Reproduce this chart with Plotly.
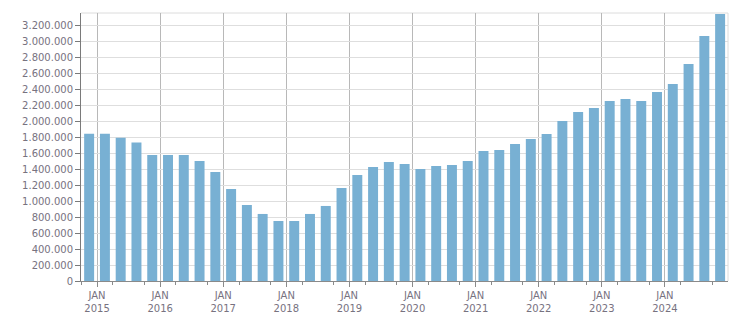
import plotly.graph_objects as go

# Quarterly values, 2014 Q4 .. 2024 Q4
start_year = 2014
start_quarter = 4
values = [
    1840000,
    1840000, 1790000, 1730000, 1575000,
    1575000, 1575000, 1500000, 1362000,
    1150000, 950000, 838000, 750000,
    750000, 838000, 938000, 1162000,
    1325000, 1425000, 1488000, 1462000,
    1400000, 1438000, 1450000, 1500000,
    1625000, 1638000, 1712000, 1775000,
    1838000, 2000000, 2112000, 2162000,
    2250000, 2275000, 2250000, 2362000,
    2462000, 2712000, 3062000, 3338000,
]
year_ticks = list(range(2015, 2025))
year_labels = ["JAN<br>%d" % y for y in year_ticks]
y_ticks = list(range(0, 3200001, 200000))

# position of each bar: mid-quarter, in fractional years
xpos = []
y, q = start_year, start_quarter
for _ in values:
    xpos.append(y + (q - 1) * 0.25 + 0.125)
    q += 1
    if q > 4:
        q = 1
        y += 1

label_font = dict(family="DejaVu Sans, Verdana, sans-serif", size=10, color="#77727f")

fig = go.Figure(go.Bar(
    x=xpos, y=values, width=0.158,
    marker=dict(color="#78b0d3", line=dict(width=0)),
    hoverinfo="skip",
))

fig.update_layout(
    width=751, height=313,
    margin=dict(l=81, r=23, t=13, b=32),
    paper_bgcolor="white", plot_bgcolor="white",
    showlegend=False,
    separators=",.",
    font=label_font,
    xaxis=dict(
        range=[2014.746, 2025.0],
        tickmode="array", tickvals=year_ticks, ticktext=year_labels,
        showgrid=True, gridcolor="#b8b8b8", gridwidth=1,
        showline=True, linecolor="#8a8a8a", linewidth=1,
        ticks="outside", ticklen=5, tickcolor="#8a8a8a",
        minor=dict(tickmode="linear", tick0=2015.25, dtick=0.5,
                   ticks="outside", ticklen=3, tickcolor="#8a8a8a", showgrid=False),
        zeroline=False, fixedrange=True, automargin=False,
        tickfont=label_font,
    ),
    yaxis=dict(
        range=[0, 3350000],
        tickmode="array", tickvals=y_ticks,
        tickformat=",.0f",
        showgrid=True, gridcolor="#dedede", gridwidth=1,
        showline=True, linecolor="#7a7a7a", linewidth=1,
        ticks="outside", ticklen=5, tickcolor="#7a7a7a",
        zeroline=False, fixedrange=True, automargin=False,
        tickfont=label_font,
    ),
    shapes=[
        dict(type="line", xref="paper", yref="paper", x0=0, x1=1, y0=1, y1=1,
             line=dict(color="#dcdcdc", width=1), layer="below"),
        dict(type="line", xref="paper", yref="paper", x0=1, x1=1, y0=0, y1=1,
             line=dict(color="#dcdcdc", width=1), layer="below"),
    ],
)

fig.write_html("out.html")
